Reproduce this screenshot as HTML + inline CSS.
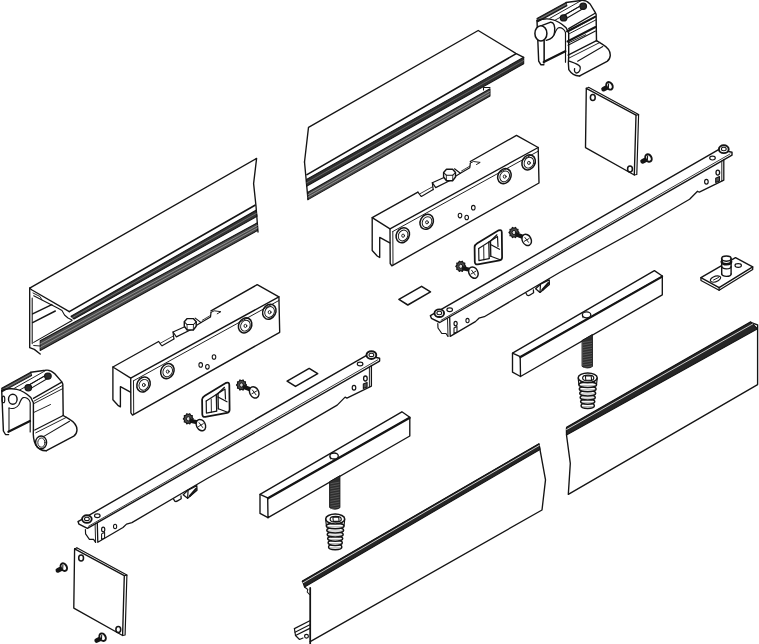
<!DOCTYPE html>
<html><head><meta charset="utf-8"><style>
html,body{margin:0;padding:0;background:#fff;width:759px;height:644px;overflow:hidden;font-family:"Liberation Sans",sans-serif;}
svg{display:block}
</style></head><body>
<svg width="759" height="644" viewBox="0 0 759 644" stroke-linejoin="round" stroke-linecap="round">
<rect width="759" height="644" fill="#fff"/>
<path d="M29.7,288.2 L256.6,158.4 L253.6,183.6 L256.0,206.0 L258.0,232.0" fill="none" stroke="#141414" stroke-width="1.36" />
<path d="M69.3,311.6 L255.0,205.2" fill="none" stroke="#141414" stroke-width="1.65" />
<path d="M71.0,316.3 L256.0,210.3 L257.0,216.3 L74.0,319.0 Z" fill="#363636" stroke="#141414" stroke-width="1.06" />
<path d="M72.5,317.6 L256.5,213.3" fill="none" stroke="#999" stroke-width="0.59" />
<path d="M40.2,340.8 L257.5,222.8 L257.5,230.5 L40.2,350.5 Z" fill="#4a4a4a" stroke="#141414" stroke-width="1.06" />
<path d="M40.2,344.0 L257.5,225.4" fill="none" stroke="#ccc" stroke-width="0.53" />
<path d="M40.2,347.3 L257.5,227.9" fill="none" stroke="#ccc" stroke-width="0.53" />
<path d="M29.7,288.2 L29.7,347.7 L34.3,349.4 L40.2,354.0" fill="none" stroke="#141414" stroke-width="1.36" />
<path d="M29.7,288.2 L32.0,290.0 L69.3,311.6" fill="none" stroke="#141414" stroke-width="1.36" />
<path d="M32.2,298.0 L32.2,343.6" fill="none" stroke="#141414" stroke-width="1.06" />
<path d="M33.7,295.8 L57.6,308.0 L62.0,310.5 L64.5,315.0 L68.0,318.0 L72.0,320.0" fill="none" stroke="#141414" stroke-width="1.06" />
<path d="M33.0,293.0 L40.0,296.5 L42.0,300.0" fill="none" stroke="#141414" stroke-width="0.94" />
<path d="M32.6,313.9 L51.8,304.6" fill="none" stroke="#141414" stroke-width="1.42" />
<path d="M32.6,322.6 L55.3,311.0" fill="none" stroke="#141414" stroke-width="1.42" />
<path d="M33.7,342.4 L72.0,320.5" fill="none" stroke="#141414" stroke-width="1.06" />
<path d="M33.7,345.5 L40.2,346.0" fill="none" stroke="#141414" stroke-width="0.94" />
<path d="M304.5,162.0 L308.5,127.3 L478.2,30.5 L515.8,53.3 L523.7,57.3" fill="none" stroke="#141414" stroke-width="1.36" />
<path d="M304.5,162.0 L308.0,199.6" fill="none" stroke="#141414" stroke-width="1.36" />
<path d="M307.0,174.6 L515.8,53.9" fill="none" stroke="#141414" stroke-width="1.65" />
<path d="M306.5,179.5 L523.7,57.3 L523.7,63.8 L306.5,186.3 Z" fill="#303030" stroke="#141414" stroke-width="1.06" />
<path d="M306.5,182.9 L523.7,60.5" fill="none" stroke="#888" stroke-width="0.59" />
<path d="M308.0,192.2 L490.0,88.7 L490.0,96.0 L308.0,199.6 Z" fill="#4a4a4a" stroke="#141414" stroke-width="1.06" />
<path d="M308.0,194.7 L490.0,91.1" fill="none" stroke="#ccc" stroke-width="0.53" />
<path d="M308.0,197.1 L490.0,93.6" fill="none" stroke="#ccc" stroke-width="0.53" />
<path d="M483.5,90.0 L483.5,87.5 L490.0,87.5" fill="none" stroke="#141414" stroke-width="1.06" />
<path d="M566.5,428.0 L750.7,322.5 L757.6,324.8 L757.6,384.6 L568.3,494.4 L570.3,463.4 L566.5,435.0 L566.5,428.0" fill="none" stroke="#141414" stroke-width="1.36" />
<path d="M566.5,427.3 L750.7,321.8 L757.6,328.8 L566.5,435.0 Z" fill="#262626" stroke="#141414" stroke-width="1.06" />
<path d="M566.5,429.6 L752.8,323.9" fill="none" stroke="#eee" stroke-width="0.83" />
<path d="M310.2,641.6 L542.0,510.0 L545.5,479.8 L539.0,444.2 L302.4,581.5" fill="none" stroke="#141414" stroke-width="1.36" />
<path d="M302.4,581.0 L539.0,443.7 L540.0,449.5 L304.5,587.0 Z" fill="#262626" stroke="#141414" stroke-width="1.06" />
<path d="M303.0,582.8 L539.3,445.4" fill="none" stroke="#eee" stroke-width="0.83" />
<path d="M310.2,588.0 L310.2,644.0" fill="none" stroke="#141414" stroke-width="1.77" />
<path d="M304.5,587.0 L307.8,589.5 L307.2,592.0 L309.5,594.5" fill="none" stroke="#141414" stroke-width="1.06" />
<path d="M294.4,628.6 L309.8,620.8" fill="none" stroke="#141414" stroke-width="1.18" />
<path d="M295.0,632.3 L309.8,624.8" fill="none" stroke="#141414" stroke-width="1.06" />
<path d="M295.5,635.5 L309.8,628.4" fill="none" stroke="#141414" stroke-width="1.18" />
<path d="M294.4,628.6 L295.5,635.5 L299.5,639.5 L303.0,638.0" fill="none" stroke="#141414" stroke-width="1.18" />
<ellipse cx="306.5" cy="636.2" rx="1.9" ry="1.9" fill="none" stroke="#141414" stroke-width="1.18"/>
<g>
<path d="M417.9,192.2 L372.2,217.7 L390.0,228.8 L538.2,147.5 L516.5,135.4 L470.3,161.5" fill="none" stroke="#141414" stroke-width="1.36" />
<path d="M390.0,228.8 L390.2,263.5 L391.8,265.8 L539.0,183.0 L538.2,147.5" fill="none" stroke="#141414" stroke-width="1.36" />
<path d="M392.8,231.5 L538.2,151.2" fill="none" stroke="#141414" stroke-width="0.94" />
<path d="M392.8,231.5 L393.0,264.8" fill="none" stroke="#141414" stroke-width="0.94" />
<path d="M372.2,217.7 L372.2,250.5 L377.2,256.0 L379.7,257.5 L379.7,237.4 L389.8,242.9" fill="none" stroke="#141414" stroke-width="1.36" />
<path d="M417.9,192.2 L420.4,195.5 L421.4,196.5 L433.2,189.6" fill="none" stroke="#141414" stroke-width="1.18" />
<path d="M419.5,194.0 L432.5,186.8" fill="none" stroke="#141414" stroke-width="0.83" />
<path d="M460.4,173.3 L469.8,167.8 L470.3,163.1" fill="none" stroke="#141414" stroke-width="1.18" />
<path d="M461.5,171.0 L470.0,166.0" fill="none" stroke="#141414" stroke-width="0.83" />
<path d="M470.3,163.1 L473.5,161.5 L480.2,162.4 L476.5,164.5" fill="none" stroke="#141414" stroke-width="0.94" />
<path d="M433.2,189.6 L432.3,182.7 L444.6,177.2" fill="none" stroke="#141414" stroke-width="1.18" />
<path d="M432.3,182.7 L435.7,187.6 L451.5,179.7" fill="none" stroke="#141414" stroke-width="1.18" />
<path d="M454.5,168.8 L460.4,173.3 L456.0,176.0" fill="none" stroke="#141414" stroke-width="1.18" />
<path d="M443.6,172.5 L446.5,169.3 L452.6,169.3 L455.5,172.5 L455.5,177.0 L452.6,180.7 L446.5,180.7 L443.6,177.0 Z" fill="#fff" stroke="#141414" stroke-width="1.42" />
<path d="M443.6,172.5 L446.3,175.2 L452.8,175.2 L455.5,172.5" fill="none" stroke="#141414" stroke-width="1.06" />
<path d="M446.3,175.2 L446.5,180.7" fill="none" stroke="#141414" stroke-width="0.83" />
<path d="M452.8,175.2 L452.6,180.7" fill="none" stroke="#141414" stroke-width="0.83" />
<ellipse cx="402.8" cy="235.2" rx="6.4" ry="7.8" fill="none" stroke="#141414" stroke-width="1.53" transform="rotate(28 402.8 235.2)"/>
<ellipse cx="403.1" cy="235.5" rx="4.6" ry="5.6" fill="none" stroke="#141414" stroke-width="0.94" transform="rotate(28 403.1 235.5)"/>
<ellipse cx="403.1" cy="235.7" rx="1.4" ry="1.6" fill="none" stroke="#141414" stroke-width="0.94"/>
<ellipse cx="426.7" cy="221.8" rx="6.4" ry="7.8" fill="none" stroke="#141414" stroke-width="1.53" transform="rotate(28 426.7 221.8)"/>
<ellipse cx="427.0" cy="222.10000000000002" rx="4.6" ry="5.6" fill="none" stroke="#141414" stroke-width="0.94" transform="rotate(28 427.0 222.10000000000002)"/>
<ellipse cx="427.0" cy="222.3" rx="1.4" ry="1.6" fill="none" stroke="#141414" stroke-width="0.94"/>
<ellipse cx="504.4" cy="176.1" rx="6.4" ry="7.8" fill="none" stroke="#141414" stroke-width="1.53" transform="rotate(28 504.4 176.1)"/>
<ellipse cx="504.7" cy="176.4" rx="4.6" ry="5.6" fill="none" stroke="#141414" stroke-width="0.94" transform="rotate(28 504.7 176.4)"/>
<ellipse cx="504.7" cy="176.6" rx="1.4" ry="1.6" fill="none" stroke="#141414" stroke-width="0.94"/>
<ellipse cx="528.6" cy="162.4" rx="6.4" ry="7.8" fill="none" stroke="#141414" stroke-width="1.53" transform="rotate(28 528.6 162.4)"/>
<ellipse cx="528.9" cy="162.70000000000002" rx="4.6" ry="5.6" fill="none" stroke="#141414" stroke-width="0.94" transform="rotate(28 528.9 162.70000000000002)"/>
<ellipse cx="528.9" cy="162.9" rx="1.4" ry="1.6" fill="none" stroke="#141414" stroke-width="0.94"/>
<ellipse cx="460" cy="215.6" rx="1.8" ry="2.3" fill="none" stroke="#141414" stroke-width="1.06"/>
<ellipse cx="466.7" cy="217.5" rx="1.8" ry="2.3" fill="none" stroke="#141414" stroke-width="1.06"/>
<ellipse cx="473.3" cy="207.7" rx="1.8" ry="2.3" fill="none" stroke="#141414" stroke-width="1.06"/>
</g>
<g transform="translate(-259.3,149.3)">
<path d="M417.9,192.2 L372.2,217.7 L390.0,228.8 L538.2,147.5 L516.5,135.4 L470.3,161.5" fill="none" stroke="#141414" stroke-width="1.36" />
<path d="M390.0,228.8 L390.2,263.5 L391.8,265.8 L539.0,183.0 L538.2,147.5" fill="none" stroke="#141414" stroke-width="1.36" />
<path d="M392.8,231.5 L538.2,151.2" fill="none" stroke="#141414" stroke-width="0.94" />
<path d="M392.8,231.5 L393.0,264.8" fill="none" stroke="#141414" stroke-width="0.94" />
<path d="M372.2,217.7 L372.2,250.5 L377.2,256.0 L379.7,257.5 L379.7,237.4 L389.8,242.9" fill="none" stroke="#141414" stroke-width="1.36" />
<path d="M417.9,192.2 L420.4,195.5 L421.4,196.5 L433.2,189.6" fill="none" stroke="#141414" stroke-width="1.18" />
<path d="M419.5,194.0 L432.5,186.8" fill="none" stroke="#141414" stroke-width="0.83" />
<path d="M460.4,173.3 L469.8,167.8 L470.3,163.1" fill="none" stroke="#141414" stroke-width="1.18" />
<path d="M461.5,171.0 L470.0,166.0" fill="none" stroke="#141414" stroke-width="0.83" />
<path d="M470.3,163.1 L473.5,161.5 L480.2,162.4 L476.5,164.5" fill="none" stroke="#141414" stroke-width="0.94" />
<path d="M433.2,189.6 L432.3,182.7 L444.6,177.2" fill="none" stroke="#141414" stroke-width="1.18" />
<path d="M432.3,182.7 L435.7,187.6 L451.5,179.7" fill="none" stroke="#141414" stroke-width="1.18" />
<path d="M454.5,168.8 L460.4,173.3 L456.0,176.0" fill="none" stroke="#141414" stroke-width="1.18" />
<path d="M443.6,172.5 L446.5,169.3 L452.6,169.3 L455.5,172.5 L455.5,177.0 L452.6,180.7 L446.5,180.7 L443.6,177.0 Z" fill="#fff" stroke="#141414" stroke-width="1.42" />
<path d="M443.6,172.5 L446.3,175.2 L452.8,175.2 L455.5,172.5" fill="none" stroke="#141414" stroke-width="1.06" />
<path d="M446.3,175.2 L446.5,180.7" fill="none" stroke="#141414" stroke-width="0.83" />
<path d="M452.8,175.2 L452.6,180.7" fill="none" stroke="#141414" stroke-width="0.83" />
<ellipse cx="402.8" cy="235.2" rx="6.4" ry="7.8" fill="none" stroke="#141414" stroke-width="1.53" transform="rotate(28 402.8 235.2)"/>
<ellipse cx="403.1" cy="235.5" rx="4.6" ry="5.6" fill="none" stroke="#141414" stroke-width="0.94" transform="rotate(28 403.1 235.5)"/>
<ellipse cx="403.1" cy="235.7" rx="1.4" ry="1.6" fill="none" stroke="#141414" stroke-width="0.94"/>
<ellipse cx="426.7" cy="221.8" rx="6.4" ry="7.8" fill="none" stroke="#141414" stroke-width="1.53" transform="rotate(28 426.7 221.8)"/>
<ellipse cx="427.0" cy="222.10000000000002" rx="4.6" ry="5.6" fill="none" stroke="#141414" stroke-width="0.94" transform="rotate(28 427.0 222.10000000000002)"/>
<ellipse cx="427.0" cy="222.3" rx="1.4" ry="1.6" fill="none" stroke="#141414" stroke-width="0.94"/>
<ellipse cx="504.4" cy="176.1" rx="6.4" ry="7.8" fill="none" stroke="#141414" stroke-width="1.53" transform="rotate(28 504.4 176.1)"/>
<ellipse cx="504.7" cy="176.4" rx="4.6" ry="5.6" fill="none" stroke="#141414" stroke-width="0.94" transform="rotate(28 504.7 176.4)"/>
<ellipse cx="504.7" cy="176.6" rx="1.4" ry="1.6" fill="none" stroke="#141414" stroke-width="0.94"/>
<ellipse cx="528.6" cy="162.4" rx="6.4" ry="7.8" fill="none" stroke="#141414" stroke-width="1.53" transform="rotate(28 528.6 162.4)"/>
<ellipse cx="528.9" cy="162.70000000000002" rx="4.6" ry="5.6" fill="none" stroke="#141414" stroke-width="0.94" transform="rotate(28 528.9 162.70000000000002)"/>
<ellipse cx="528.9" cy="162.9" rx="1.4" ry="1.6" fill="none" stroke="#141414" stroke-width="0.94"/>
<ellipse cx="460" cy="215.6" rx="1.8" ry="2.3" fill="none" stroke="#141414" stroke-width="1.06"/>
<ellipse cx="466.7" cy="217.5" rx="1.8" ry="2.3" fill="none" stroke="#141414" stroke-width="1.06"/>
<ellipse cx="473.3" cy="207.7" rx="1.8" ry="2.3" fill="none" stroke="#141414" stroke-width="1.06"/>
</g>
<g>
<path d="M474.6,247 L474.8,262 Q475,264.8 477.8,264.3 L499.6,260.3 Q502.2,259.8 502.1,257 L501.8,232.3 Q501.6,229.2 498.7,230.3 L477.3,243.2 Q474.6,244.8 474.6,247 Z" fill="#fff" stroke="#141414" stroke-width="1.77" />
<path d="M478.7,248.5 L478.9,260.6 L489.2,258.6" fill="none" stroke="#141414" stroke-width="1.18" />
<path d="M478.7,248.5 L497.5,236.5 L498.0,246.5" fill="none" stroke="#141414" stroke-width="1.18" />
<path d="M483.7,246.5 L483.9,259.8" fill="none" stroke="#141414" stroke-width="0.94" />
<path d="M488.8,242.2 L489.2,258.3" fill="none" stroke="#141414" stroke-width="1.30" />
<path d="M490.5,241.0 L490.8,256.3" fill="none" stroke="#141414" stroke-width="1.30" />
<path d="M488.8,242.2 L490.5,241.0 L497.0,234.8" fill="none" stroke="#141414" stroke-width="1.18" />
<path d="M490.5,244.5 L499.5,249.3" fill="none" stroke="#141414" stroke-width="1.30" />
<path d="M490.8,256.3 L499.5,259.5" fill="none" stroke="#141414" stroke-width="1.18" />
<path d="M519.0,232.5 L517.8,233.8 L518.0,235.7 L516.4,236.0 L515.5,237.6 L514.0,236.8 L512.5,237.6 L511.6,236.0 L510.0,235.7 L510.2,233.8 L509.0,232.5 L510.2,231.2 L510.0,229.3 L511.6,229.0 L512.5,227.4 L514.0,228.2 L515.5,227.4 L516.4,229.0 L518.0,229.3 L517.8,231.2 Z" fill="#4a4a4a" stroke="#141414" stroke-width="1.18" />
<ellipse cx="514.0" cy="232.5" rx="1.9" ry="2.1" fill="#ddd" stroke="#141414" stroke-width="0.94"/>
<path d="M517.2,234.7 L523.9,237.3" fill="none" stroke="#141414" stroke-width="4.25" />
<ellipse cx="526.7" cy="239.9" rx="4.4" ry="5.9" fill="#fff" stroke="#141414" stroke-width="1.42" transform="rotate(-28 526.7 239.9)"/>
<path d="M524.9,237.5 L528.5,242.3" fill="none" stroke="#141414" stroke-width="0.94" />
<path d="M524.3,241.3 L529.1,238.5" fill="none" stroke="#141414" stroke-width="0.94" />
<path d="M465.8,266.3 L464.6,267.6 L464.8,269.5 L463.2,269.8 L462.3,271.4 L460.8,270.6 L459.3,271.4 L458.4,269.8 L456.8,269.5 L457.0,267.6 L455.8,266.3 L457.0,265.0 L456.8,263.1 L458.4,262.8 L459.3,261.2 L460.8,262.0 L462.3,261.2 L463.2,262.8 L464.8,263.1 L464.6,265.0 Z" fill="#4a4a4a" stroke="#141414" stroke-width="1.18" />
<ellipse cx="460.8" cy="266.3" rx="1.9" ry="2.1" fill="#ddd" stroke="#141414" stroke-width="0.94"/>
<path d="M464.0,268.5 L470.6,270.0" fill="none" stroke="#141414" stroke-width="4.25" />
<ellipse cx="473.4" cy="272.6" rx="4.4" ry="5.9" fill="#fff" stroke="#141414" stroke-width="1.42" transform="rotate(-28 473.4 272.6)"/>
<path d="M471.6,270.2 L475.2,275.0" fill="none" stroke="#141414" stroke-width="0.94" />
<path d="M471.0,274.0 L475.8,271.2" fill="none" stroke="#141414" stroke-width="0.94" />
</g>
<g transform="translate(-272.5,152.5)">
<path d="M474.6,247 L474.8,262 Q475,264.8 477.8,264.3 L499.6,260.3 Q502.2,259.8 502.1,257 L501.8,232.3 Q501.6,229.2 498.7,230.3 L477.3,243.2 Q474.6,244.8 474.6,247 Z" fill="#fff" stroke="#141414" stroke-width="1.77" />
<path d="M478.7,248.5 L478.9,260.6 L489.2,258.6" fill="none" stroke="#141414" stroke-width="1.18" />
<path d="M478.7,248.5 L497.5,236.5 L498.0,246.5" fill="none" stroke="#141414" stroke-width="1.18" />
<path d="M483.7,246.5 L483.9,259.8" fill="none" stroke="#141414" stroke-width="0.94" />
<path d="M488.8,242.2 L489.2,258.3" fill="none" stroke="#141414" stroke-width="1.30" />
<path d="M490.5,241.0 L490.8,256.3" fill="none" stroke="#141414" stroke-width="1.30" />
<path d="M488.8,242.2 L490.5,241.0 L497.0,234.8" fill="none" stroke="#141414" stroke-width="1.18" />
<path d="M490.5,244.5 L499.5,249.3" fill="none" stroke="#141414" stroke-width="1.30" />
<path d="M490.8,256.3 L499.5,259.5" fill="none" stroke="#141414" stroke-width="1.18" />
<path d="M519.0,232.5 L517.8,233.8 L518.0,235.7 L516.4,236.0 L515.5,237.6 L514.0,236.8 L512.5,237.6 L511.6,236.0 L510.0,235.7 L510.2,233.8 L509.0,232.5 L510.2,231.2 L510.0,229.3 L511.6,229.0 L512.5,227.4 L514.0,228.2 L515.5,227.4 L516.4,229.0 L518.0,229.3 L517.8,231.2 Z" fill="#4a4a4a" stroke="#141414" stroke-width="1.18" />
<ellipse cx="514.0" cy="232.5" rx="1.9" ry="2.1" fill="#ddd" stroke="#141414" stroke-width="0.94"/>
<path d="M517.2,234.7 L523.9,237.3" fill="none" stroke="#141414" stroke-width="4.25" />
<ellipse cx="526.7" cy="239.9" rx="4.4" ry="5.9" fill="#fff" stroke="#141414" stroke-width="1.42" transform="rotate(-28 526.7 239.9)"/>
<path d="M524.9,237.5 L528.5,242.3" fill="none" stroke="#141414" stroke-width="0.94" />
<path d="M524.3,241.3 L529.1,238.5" fill="none" stroke="#141414" stroke-width="0.94" />
<path d="M465.8,266.3 L464.6,267.6 L464.8,269.5 L463.2,269.8 L462.3,271.4 L460.8,270.6 L459.3,271.4 L458.4,269.8 L456.8,269.5 L457.0,267.6 L455.8,266.3 L457.0,265.0 L456.8,263.1 L458.4,262.8 L459.3,261.2 L460.8,262.0 L462.3,261.2 L463.2,262.8 L464.8,263.1 L464.6,265.0 Z" fill="#4a4a4a" stroke="#141414" stroke-width="1.18" />
<ellipse cx="460.8" cy="266.3" rx="1.9" ry="2.1" fill="#ddd" stroke="#141414" stroke-width="0.94"/>
<path d="M464.0,268.5 L470.6,270.0" fill="none" stroke="#141414" stroke-width="4.25" />
<ellipse cx="473.4" cy="272.6" rx="4.4" ry="5.9" fill="#fff" stroke="#141414" stroke-width="1.42" transform="rotate(-28 473.4 272.6)"/>
<path d="M471.6,270.2 L475.2,275.0" fill="none" stroke="#141414" stroke-width="0.94" />
<path d="M471.0,274.0 L475.8,271.2" fill="none" stroke="#141414" stroke-width="0.94" />
</g>
<path d="M398.9,299.4 L421.6,286.3 L430.5,291.9 L407.8,305.0 Z" fill="none" stroke="#141414" stroke-width="1.53" />
<path d="M287.1,381.1 L309.2,368.4 L317.7,373.7 L295.5,386.4 Z" fill="none" stroke="#141414" stroke-width="1.53" />
<g>
<path d="M430.4,315.7 L719.0,149.4 L732.0,152.3 L732.0,155.2 L439.8,322.5 L431.4,318.3 L430.4,315.7" fill="none" stroke="#141414" stroke-width="1.42" />
<path d="M441.0,320.3 L730.0,154.0" fill="none" stroke="#141414" stroke-width="0.83" />
<path d="M449.7,317.5 L450.2,336.4 L475.4,321.6 L478.9,318.2 L484.3,316.7 L560.0,272.3 L640.0,228.2 L689.6,199.2 L697.5,191.2 L699.3,192.2 L723.8,180.2 L723.8,159.6" fill="none" stroke="#141414" stroke-width="1.30" />
<path d="M721.8,161.0 L721.8,181.0" fill="none" stroke="#141414" stroke-width="0.94" />
<path d="M447.5,318.5 L448.0,336.0" fill="none" stroke="#141414" stroke-width="0.94" />
<path d="M437.8,323.6 L438.0,328.0 L441.8,333.5 L446.0,333.5 L448.0,336.5" fill="none" stroke="#141414" stroke-width="1.18" />
<ellipse cx="439.3" cy="313.2" rx="4.8" ry="3.8" fill="#fff" stroke="#141414" stroke-width="1.89"/>
<ellipse cx="439.3" cy="313.0" rx="2.4" ry="1.7" fill="none" stroke="#141414" stroke-width="1.06"/>
<ellipse cx="449.7" cy="309.8" rx="2.8" ry="1.9" fill="none" stroke="#141414" stroke-width="1.18"/>
<ellipse cx="455.6" cy="323.6" rx="1.6" ry="2.3" fill="none" stroke="#141414" stroke-width="1.18"/>
<ellipse cx="467.5" cy="320.6" rx="1.6" ry="2.2" fill="none" stroke="#141414" stroke-width="1.06"/>
<path d="M454.0,328.0 L457.0,326.5 L457.0,332.0 L454.0,333.5 Z" fill="none" stroke="#141414" stroke-width="1.06" />
<ellipse cx="723.8" cy="149.2" rx="4.9" ry="3.9" fill="#fff" stroke="#141414" stroke-width="1.89"/>
<ellipse cx="723.8" cy="149.0" rx="2.4" ry="1.7" fill="none" stroke="#141414" stroke-width="1.06"/>
<ellipse cx="712.5" cy="158.1" rx="2.8" ry="1.9" fill="none" stroke="#141414" stroke-width="1.18"/>
<ellipse cx="717.8" cy="172.6" rx="1.8" ry="2.5" fill="none" stroke="#141414" stroke-width="1.30"/>
<ellipse cx="706.4" cy="181.8" rx="1.8" ry="2.4" fill="none" stroke="#141414" stroke-width="1.18"/>
<path d="M715.7,178.2 L719.5,176.5 L719.5,181.0 L715.7,182.6 Z" fill="#555" stroke="#141414" stroke-width="1.06" />
<path d="M526.0,293.2 L527.2,295.3 Q528.5,296 530,295 L533.6,292.8 L533.4,290.0" fill="none" stroke="#141414" stroke-width="1.30" />
<path d="M535.6,288.8 L540.0,292.4 L549.4,284.4 L549.2,279.8 L540.5,284.2 Z" fill="#fff" stroke="#141414" stroke-width="1.30" />
<path d="M540.5,284.2 L540.0,292.4" fill="none" stroke="#141414" stroke-width="1.18" />
<path d="M542.3,290.0 L548.4,283.0" fill="none" stroke="#141414" stroke-width="2.12" />
</g>
<g transform="translate(-352.4,205.9)">
<path d="M430.4,315.7 L719.0,149.4 L732.0,152.3 L732.0,155.2 L439.8,322.5 L431.4,318.3 L430.4,315.7" fill="none" stroke="#141414" stroke-width="1.42" />
<path d="M441.0,320.3 L730.0,154.0" fill="none" stroke="#141414" stroke-width="0.83" />
<path d="M449.7,317.5 L450.2,336.4 L475.4,321.6 L478.9,318.2 L484.3,316.7 L560.0,272.3 L640.0,228.2 L689.6,199.2 L697.5,191.2 L699.3,192.2 L723.8,180.2 L723.8,159.6" fill="none" stroke="#141414" stroke-width="1.30" />
<path d="M721.8,161.0 L721.8,181.0" fill="none" stroke="#141414" stroke-width="0.94" />
<path d="M447.5,318.5 L448.0,336.0" fill="none" stroke="#141414" stroke-width="0.94" />
<path d="M437.8,323.6 L438.0,328.0 L441.8,333.5 L446.0,333.5 L448.0,336.5" fill="none" stroke="#141414" stroke-width="1.18" />
<ellipse cx="439.3" cy="313.2" rx="4.8" ry="3.8" fill="#fff" stroke="#141414" stroke-width="1.89"/>
<ellipse cx="439.3" cy="313.0" rx="2.4" ry="1.7" fill="none" stroke="#141414" stroke-width="1.06"/>
<ellipse cx="449.7" cy="309.8" rx="2.8" ry="1.9" fill="none" stroke="#141414" stroke-width="1.18"/>
<ellipse cx="455.6" cy="323.6" rx="1.6" ry="2.3" fill="none" stroke="#141414" stroke-width="1.18"/>
<ellipse cx="467.5" cy="320.6" rx="1.6" ry="2.2" fill="none" stroke="#141414" stroke-width="1.06"/>
<path d="M454.0,328.0 L457.0,326.5 L457.0,332.0 L454.0,333.5 Z" fill="none" stroke="#141414" stroke-width="1.06" />
<ellipse cx="723.8" cy="149.2" rx="4.9" ry="3.9" fill="#fff" stroke="#141414" stroke-width="1.89"/>
<ellipse cx="723.8" cy="149.0" rx="2.4" ry="1.7" fill="none" stroke="#141414" stroke-width="1.06"/>
<ellipse cx="712.5" cy="158.1" rx="2.8" ry="1.9" fill="none" stroke="#141414" stroke-width="1.18"/>
<ellipse cx="717.8" cy="172.6" rx="1.8" ry="2.5" fill="none" stroke="#141414" stroke-width="1.30"/>
<ellipse cx="706.4" cy="181.8" rx="1.8" ry="2.4" fill="none" stroke="#141414" stroke-width="1.18"/>
<path d="M715.7,178.2 L719.5,176.5 L719.5,181.0 L715.7,182.6 Z" fill="#555" stroke="#141414" stroke-width="1.06" />
<path d="M526.0,293.2 L527.2,295.3 Q528.5,296 530,295 L533.6,292.8 L533.4,290.0" fill="none" stroke="#141414" stroke-width="1.30" />
<path d="M535.6,288.8 L540.0,292.4 L549.4,284.4 L549.2,279.8 L540.5,284.2 Z" fill="#fff" stroke="#141414" stroke-width="1.30" />
<path d="M540.5,284.2 L540.0,292.4" fill="none" stroke="#141414" stroke-width="1.18" />
<path d="M542.3,290.0 L548.4,283.0" fill="none" stroke="#141414" stroke-width="2.12" />
</g>
<g>
<path d="M512.5,353.2 L654.4,270.6 L662.3,276.0 L520.2,356.7 Z" fill="none" stroke="#141414" stroke-width="1.36" />
<path d="M520.2,356.7 L520.5,376.5 L662.3,294.8 L662.3,276.0" fill="none" stroke="#141414" stroke-width="1.36" />
<path d="M512.5,353.2 L512.5,372.2 L520.5,376.5" fill="none" stroke="#141414" stroke-width="1.36" />
<path d="M520.2,357.5 L662.3,276.8" fill="none" stroke="#141414" stroke-width="1.77" />
<ellipse cx="586.6" cy="314.8" rx="4.2" ry="3.0" fill="#fff" stroke="#141414" stroke-width="1.30"/>
<path d="M582.4,315.5 L583.0,317.8" fill="none" stroke="#141414" stroke-width="0.94" />
<path d="M582.4,340.3 L592.4,334.5 L592.4,366.5 Q587.4,369.5 582.4,366.5 Z" fill="#2e2e2e" stroke="#141414" stroke-width="0.94" />
<path d="M583.2,342.5 L591.6,341.0" fill="none" stroke="#666" stroke-width="0.71" />
<path d="M583.2,345.0 L591.6,343.5" fill="none" stroke="#666" stroke-width="0.71" />
<path d="M583.2,347.5 L591.6,346.0" fill="none" stroke="#666" stroke-width="0.71" />
<path d="M583.2,350.0 L591.6,348.5" fill="none" stroke="#666" stroke-width="0.71" />
<path d="M583.2,352.5 L591.6,351.0" fill="none" stroke="#666" stroke-width="0.71" />
<path d="M583.2,355.0 L591.6,353.5" fill="none" stroke="#666" stroke-width="0.71" />
<path d="M583.2,357.5 L591.6,356.0" fill="none" stroke="#666" stroke-width="0.71" />
<path d="M583.2,360.0 L591.6,358.5" fill="none" stroke="#666" stroke-width="0.71" />
<path d="M583.2,362.5 L591.6,361.0" fill="none" stroke="#666" stroke-width="0.71" />
<path d="M583.2,365.0 L591.6,363.5" fill="none" stroke="#666" stroke-width="0.71" />
<path d="M583.2,367.5 L591.6,366.0" fill="none" stroke="#666" stroke-width="0.71" />
<ellipse cx="587.7" cy="405.8" rx="6.65" ry="2.7" fill="#fff" stroke="#141414" stroke-width="1.47"/>
<path d="M582.6,406.6 L592.9,406.6" fill="none" stroke="#777" stroke-width="0.59" />
<ellipse cx="587.7" cy="401.6" rx="7.1000000000000005" ry="2.7" fill="#fff" stroke="#141414" stroke-width="1.47"/>
<path d="M582.1,402.4 L593.3,402.4" fill="none" stroke="#777" stroke-width="0.59" />
<ellipse cx="587.7" cy="397.40000000000003" rx="7.550000000000001" ry="2.7" fill="#fff" stroke="#141414" stroke-width="1.47"/>
<path d="M581.7,398.2 L593.8,398.2" fill="none" stroke="#777" stroke-width="0.59" />
<ellipse cx="587.7" cy="393.2" rx="8.0" ry="2.7" fill="#fff" stroke="#141414" stroke-width="1.47"/>
<path d="M581.2,394.0 L594.2,394.0" fill="none" stroke="#777" stroke-width="0.59" />
<ellipse cx="587.7" cy="389.0" rx="8.450000000000001" ry="2.7" fill="#fff" stroke="#141414" stroke-width="1.47"/>
<path d="M580.8,389.8 L594.7,389.8" fill="none" stroke="#777" stroke-width="0.59" />
<ellipse cx="587.7" cy="384.8" rx="8.9" ry="2.7" fill="#fff" stroke="#141414" stroke-width="1.47"/>
<path d="M580.3,385.6 L595.1,385.6" fill="none" stroke="#777" stroke-width="0.59" />
<ellipse cx="587.7" cy="377.8" rx="9.5" ry="4.9" fill="#fff" stroke="#141414" stroke-width="1.53"/>
<ellipse cx="588.2" cy="378.1" rx="5.6" ry="2.9" fill="none" stroke="#141414" stroke-width="1.18"/>
<path d="M585.4,376.0 L591.2,376.0 L591.6,380.2 L585.8,380.2 Z" fill="none" stroke="#141414" stroke-width="1.06" />
<path d="M578.2,378.5 L578.9,384.5" fill="none" stroke="#141414" stroke-width="1.18" />
<path d="M597.2,378.5 L596.5,384.5" fill="none" stroke="#141414" stroke-width="1.18" />
</g>
<g transform="translate(-252.5,141.2)">
<path d="M512.5,353.2 L654.4,270.6 L662.3,276.0 L520.2,356.7 Z" fill="none" stroke="#141414" stroke-width="1.36" />
<path d="M520.2,356.7 L520.5,376.5 L662.3,294.8 L662.3,276.0" fill="none" stroke="#141414" stroke-width="1.36" />
<path d="M512.5,353.2 L512.5,372.2 L520.5,376.5" fill="none" stroke="#141414" stroke-width="1.36" />
<path d="M520.2,357.5 L662.3,276.8" fill="none" stroke="#141414" stroke-width="1.77" />
<ellipse cx="586.6" cy="314.8" rx="4.2" ry="3.0" fill="#fff" stroke="#141414" stroke-width="1.30"/>
<path d="M582.4,315.5 L583.0,317.8" fill="none" stroke="#141414" stroke-width="0.94" />
<path d="M582.4,340.3 L592.4,334.5 L592.4,366.5 Q587.4,369.5 582.4,366.5 Z" fill="#2e2e2e" stroke="#141414" stroke-width="0.94" />
<path d="M583.2,342.5 L591.6,341.0" fill="none" stroke="#666" stroke-width="0.71" />
<path d="M583.2,345.0 L591.6,343.5" fill="none" stroke="#666" stroke-width="0.71" />
<path d="M583.2,347.5 L591.6,346.0" fill="none" stroke="#666" stroke-width="0.71" />
<path d="M583.2,350.0 L591.6,348.5" fill="none" stroke="#666" stroke-width="0.71" />
<path d="M583.2,352.5 L591.6,351.0" fill="none" stroke="#666" stroke-width="0.71" />
<path d="M583.2,355.0 L591.6,353.5" fill="none" stroke="#666" stroke-width="0.71" />
<path d="M583.2,357.5 L591.6,356.0" fill="none" stroke="#666" stroke-width="0.71" />
<path d="M583.2,360.0 L591.6,358.5" fill="none" stroke="#666" stroke-width="0.71" />
<path d="M583.2,362.5 L591.6,361.0" fill="none" stroke="#666" stroke-width="0.71" />
<path d="M583.2,365.0 L591.6,363.5" fill="none" stroke="#666" stroke-width="0.71" />
<path d="M583.2,367.5 L591.6,366.0" fill="none" stroke="#666" stroke-width="0.71" />
<ellipse cx="587.7" cy="405.8" rx="6.65" ry="2.7" fill="#fff" stroke="#141414" stroke-width="1.47"/>
<path d="M582.6,406.6 L592.9,406.6" fill="none" stroke="#777" stroke-width="0.59" />
<ellipse cx="587.7" cy="401.6" rx="7.1000000000000005" ry="2.7" fill="#fff" stroke="#141414" stroke-width="1.47"/>
<path d="M582.1,402.4 L593.3,402.4" fill="none" stroke="#777" stroke-width="0.59" />
<ellipse cx="587.7" cy="397.40000000000003" rx="7.550000000000001" ry="2.7" fill="#fff" stroke="#141414" stroke-width="1.47"/>
<path d="M581.7,398.2 L593.8,398.2" fill="none" stroke="#777" stroke-width="0.59" />
<ellipse cx="587.7" cy="393.2" rx="8.0" ry="2.7" fill="#fff" stroke="#141414" stroke-width="1.47"/>
<path d="M581.2,394.0 L594.2,394.0" fill="none" stroke="#777" stroke-width="0.59" />
<ellipse cx="587.7" cy="389.0" rx="8.450000000000001" ry="2.7" fill="#fff" stroke="#141414" stroke-width="1.47"/>
<path d="M580.8,389.8 L594.7,389.8" fill="none" stroke="#777" stroke-width="0.59" />
<ellipse cx="587.7" cy="384.8" rx="8.9" ry="2.7" fill="#fff" stroke="#141414" stroke-width="1.47"/>
<path d="M580.3,385.6 L595.1,385.6" fill="none" stroke="#777" stroke-width="0.59" />
<ellipse cx="587.7" cy="377.8" rx="9.5" ry="4.9" fill="#fff" stroke="#141414" stroke-width="1.53"/>
<ellipse cx="588.2" cy="378.1" rx="5.6" ry="2.9" fill="none" stroke="#141414" stroke-width="1.18"/>
<path d="M585.4,376.0 L591.2,376.0 L591.6,380.2 L585.8,380.2 Z" fill="none" stroke="#141414" stroke-width="1.06" />
<path d="M578.2,378.5 L578.9,384.5" fill="none" stroke="#141414" stroke-width="1.18" />
<path d="M597.2,378.5 L596.5,384.5" fill="none" stroke="#141414" stroke-width="1.18" />
</g>
<g>
<path d="M586.3,88.3 L636.0,115.2 L634.3,175.0 L585.5,147.6 Z" fill="none" stroke="#141414" stroke-width="1.36" />
<path d="M588.5,87.3 L638.6,114.6 L636.8,174.5 L634.3,175.0" fill="none" stroke="#141414" stroke-width="1.18" />
<path d="M586.3,88.3 L588.5,87.5" fill="none" stroke="#141414" stroke-width="1.18" />
<path d="M636.0,115.2 L638.6,114.6" fill="none" stroke="#141414" stroke-width="1.18" />
<ellipse cx="592.8" cy="97.4" rx="2.4" ry="3.0" fill="none" stroke="#141414" stroke-width="1.53"/>
<ellipse cx="630.0" cy="169.0" rx="2.4" ry="3.0" fill="none" stroke="#141414" stroke-width="1.53"/>
</g>
<g transform="translate(-511.7,460.5)">
<path d="M586.3,88.3 L636.0,115.2 L634.3,175.0 L585.5,147.6 Z" fill="none" stroke="#141414" stroke-width="1.36" />
<path d="M588.5,87.3 L638.6,114.6 L636.8,174.5 L634.3,175.0" fill="none" stroke="#141414" stroke-width="1.18" />
<path d="M586.3,88.3 L588.5,87.5" fill="none" stroke="#141414" stroke-width="1.18" />
<path d="M636.0,115.2 L638.6,114.6" fill="none" stroke="#141414" stroke-width="1.18" />
<ellipse cx="592.8" cy="97.4" rx="2.4" ry="3.0" fill="none" stroke="#141414" stroke-width="1.53"/>
<ellipse cx="630.0" cy="169.0" rx="2.4" ry="3.0" fill="none" stroke="#141414" stroke-width="1.53"/>
</g>
<path d="M608.0,86.9 L603.6,89.1" fill="none" stroke="#141414" stroke-width="4.72" />
<ellipse cx="609.5" cy="85.8" rx="2.9" ry="4.0" fill="#fff" stroke="#141414" stroke-width="2.01" transform="rotate(-30 609.5 85.8)"/>
<path d="M608.6,83.7 L608.4,87.5" fill="none" stroke="#141414" stroke-width="1.06" />
<path d="M647.0,159.1 L642.6,161.3" fill="none" stroke="#141414" stroke-width="4.72" />
<ellipse cx="648.5" cy="158.0" rx="2.9" ry="4.0" fill="#fff" stroke="#141414" stroke-width="2.01" transform="rotate(-30 648.5 158.0)"/>
<path d="M647.6,155.9 L647.4,159.7" fill="none" stroke="#141414" stroke-width="1.06" />
<path d="M62.3,568.2 L57.9,570.4" fill="none" stroke="#141414" stroke-width="4.72" />
<ellipse cx="63.8" cy="567.1" rx="2.9" ry="4.0" fill="#fff" stroke="#141414" stroke-width="2.01" transform="rotate(-30 63.8 567.1)"/>
<path d="M62.9,565.0 L62.7,568.8" fill="none" stroke="#141414" stroke-width="1.06" />
<path d="M101.1,638.3 L96.7,640.5" fill="none" stroke="#141414" stroke-width="4.72" />
<ellipse cx="102.6" cy="637.2" rx="2.9" ry="4.0" fill="#fff" stroke="#141414" stroke-width="2.01" transform="rotate(-30 102.6 637.2)"/>
<path d="M101.7,635.1 L101.5,638.9" fill="none" stroke="#141414" stroke-width="1.06" />
<path d="M1.7,388.3 L30.8,372.3 L31.6,375.6 L2.4,391.6 Z" fill="#3c3c3c" stroke="#141414" stroke-width="1.06" />
<path d="M2.0,390.0 L31.2,374.0" fill="none" stroke="#aaa" stroke-width="0.59" />
<path d="M30.8,372.3 L45.4,370.3 C48.5,369.6 51.5,370.5 54.8,373.8 L61.6,381.6 L62.8,384 L63.2,415.5" fill="none" stroke="#141414" stroke-width="1.42" />
<path d="M33.4,398.4 L61.8,382.1" fill="none" stroke="#141414" stroke-width="1.30" />
<path d="M34.2,401.0 L62.5,385.4" fill="none" stroke="#141414" stroke-width="0.94" />
<path d="M34.2,403.4 L62.8,388.6" fill="none" stroke="#141414" stroke-width="0.94" />
<path d="M14.6,388.1 L45.5,370.6" fill="none" stroke="#141414" stroke-width="0.94" />
<path d="M19.7,390.0 L49.5,373.4" fill="none" stroke="#141414" stroke-width="0.94" />
<path d="M28.3,385.5 L47.9,373.9" fill="none" stroke="#141414" stroke-width="1.06" />
<path d="M28.8,389.6 L48.4,378.0" fill="none" stroke="#141414" stroke-width="1.06" />
<ellipse cx="28.3" cy="387.7" rx="3.3" ry="3.1" fill="#2a2a2a" stroke="#141414" stroke-width="1.18"/>
<ellipse cx="47.9" cy="376.1" rx="3.3" ry="3.1" fill="#2a2a2a" stroke="#141414" stroke-width="1.18"/>
<path d="M33.7,412.5 L50.5,404.5" fill="none" stroke="#141414" stroke-width="0.94" />
<path d="M1.7,390.5 L3.4,431.0 L5.5,434.5 L8.6,434.6" fill="none" stroke="#141414" stroke-width="1.42" />
<path d="M8.4,431.8 L30.0,421.0" fill="none" stroke="#141414" stroke-width="2.24" />
<path d="M9.0,408.0 L9.0,431.0" fill="none" stroke="#141414" stroke-width="1.06" />
<path d="M1.7,390.5 C6,388.6 13,388.2 17,389.4 C22,390.6 26,393 30.8,397.5 L33.4,402.7 L33.4,429.0 C33.0,435.0 32.8,439.0 35.5,444.5 C38.0,448.5 42.0,451.0 46.4,450.8" fill="none" stroke="#141414" stroke-width="1.42" />
<path d="M9,408 C12,409 16.5,408.5 19,404.5 C20.2,401.5 21,398.6 23.2,397.6 C26,397 29.5,399 30.2,402.5 L30.2,432" fill="none" stroke="#141414" stroke-width="1.18" />
<g transform="translate(0.0,0.0)">
<path d="M34.8,430.0 L63.2,415.5" fill="none" stroke="#141414" stroke-width="1.30" />
<path d="M35.8,432.8 L66.5,417.3" fill="none" stroke="#141414" stroke-width="0.94" />
<path d="M63.2,415.5 L68.5,418.6 C73.5,421.5 77.2,425.5 77.0,430.0 C76.8,433.2 75.4,435 73.8,436.1 L46.4,450.6" fill="none" stroke="#141414" stroke-width="1.42" />
<path d="M44.3,436.1 L69.5,421.3" fill="none" stroke="#141414" stroke-width="1.06" />
</g>
<ellipse cx="12.8" cy="399.2" rx="4.3" ry="5.0" fill="none" stroke="#141414" stroke-width="1.42"/>
<ellipse cx="3.4" cy="399.4" rx="1.4" ry="3.3" fill="none" stroke="#141414" stroke-width="1.18"/>
<ellipse cx="41.1" cy="442.4" rx="5.5" ry="6.4" fill="none" stroke="#141414" stroke-width="1.42"/>
<ellipse cx="41.4" cy="442.6" rx="3.6" ry="4.6" fill="none" stroke="#141414" stroke-width="0.94"/>
<g transform="translate(535.3,-369.8)">
<path d="M1.7,388.3 L30.8,372.3 L31.6,375.6 L2.4,391.6 Z" fill="#3c3c3c" stroke="#141414" stroke-width="1.06" />
<path d="M2.0,390.0 L31.2,374.0" fill="none" stroke="#aaa" stroke-width="0.59" />
<path d="M30.8,372.3 L45.4,370.3 C48.5,369.6 51.5,370.5 54.8,373.8 L59.6,381.6 L60.8,384 L61.2,410.5" fill="none" stroke="#141414" stroke-width="1.42" />
<path d="M33.4,398.4 L59.8,383.1" fill="none" stroke="#141414" stroke-width="1.30" />
<path d="M34.2,401.0 L60.5,386.4" fill="none" stroke="#141414" stroke-width="0.94" />
<path d="M34.2,403.4 L60.8,389.6" fill="none" stroke="#141414" stroke-width="0.94" />
<path d="M14.6,388.1 L45.5,370.6" fill="none" stroke="#141414" stroke-width="0.94" />
<path d="M19.7,390.0 L49.5,373.4" fill="none" stroke="#141414" stroke-width="0.94" />
<path d="M28.3,385.5 L47.9,373.9" fill="none" stroke="#141414" stroke-width="1.06" />
<path d="M28.8,389.6 L48.4,378.0" fill="none" stroke="#141414" stroke-width="1.06" />
<ellipse cx="28.3" cy="387.7" rx="3.3" ry="3.1" fill="#2a2a2a" stroke="#141414" stroke-width="1.18"/>
<ellipse cx="47.9" cy="376.1" rx="3.3" ry="3.1" fill="#2a2a2a" stroke="#141414" stroke-width="1.18"/>
<path d="M33.7,412.5 L50.5,404.5" fill="none" stroke="#141414" stroke-width="0.94" />
<path d="M1.7,390.5 L3.4,431.0 L5.5,434.5 L8.6,434.6" fill="none" stroke="#141414" stroke-width="1.42" />
<path d="M8.4,431.8 L30.0,421.0" fill="none" stroke="#141414" stroke-width="2.24" />
<path d="M9.0,408.0 L9.0,431.0" fill="none" stroke="#141414" stroke-width="1.06" />
<path d="M1.7,390.5 C6,388.6 13,388.2 17,389.4 C22,390.6 26,393 30.8,397.5 L33.4,402.7 L33.4,426.0 C33.0,430.0 32.8,434.0 33.5,439.5 C36.0,443.5 40.0,446.0 44.4,445.8" fill="none" stroke="#141414" stroke-width="1.42" />
<path d="M9,408 C12,409 16.5,408.5 19,404.5 C20.2,401.5 21,398.6 23.2,397.6 C26,397 29.5,399 30.2,402.5 L30.2,432" fill="none" stroke="#141414" stroke-width="1.18" />
<g transform="translate(-2.0,-5.0)">
<path d="M34.8,430.0 L63.2,415.5" fill="none" stroke="#141414" stroke-width="1.30" />
<path d="M35.8,432.8 L66.5,417.3" fill="none" stroke="#141414" stroke-width="0.94" />
<path d="M63.2,415.5 L68.5,418.6 C73.5,421.5 77.2,425.5 77.0,430.0 C76.8,433.2 75.4,435 73.8,436.1 L46.4,450.6" fill="none" stroke="#141414" stroke-width="1.42" />
<path d="M44.3,436.1 L69.5,421.3" fill="none" stroke="#141414" stroke-width="1.06" />
</g>
</g>
<path d="M540.9,25.8 L550.1,22.3 C554,21.5 555.2,26.5 554.6,32 C554.3,36 551,39.2 546.3,40.4" fill="#fff" stroke="#141414" stroke-width="1.42" />
<ellipse cx="540.9" cy="33.4" rx="6.0" ry="7.6" fill="#fff" stroke="#141414" stroke-width="1.53"/>
<path d="M569.1,61.1 C573,62.5 577.5,63.5 580,66.5 C581,69 579.5,72.5 576.7,73 C575,73 574,71 574.6,68.7" fill="none" stroke="#141414" stroke-width="1.30" />
<path d="M544.0,41.5 L544.0,63.3" fill="none" stroke="#141414" stroke-width="1.06" />
<path d="M567.0,31.3 L595.0,16.8" fill="none" stroke="#141414" stroke-width="2.01" />
<path d="M567.5,41.5 L595.5,27.0" fill="none" stroke="#141414" stroke-width="2.01" />
<path d="M568.0,45.3 L595.5,31.0" fill="none" stroke="#141414" stroke-width="1.06" />
<path d="M700.9,277.7 L735.5,257.7 L752.7,266.8 L719.1,287.7 Z" fill="none" stroke="#141414" stroke-width="1.42" />
<path d="M700.9,277.7 L701.0,280.5 L719.1,290.3 L752.7,269.5 L752.7,266.8" fill="none" stroke="#141414" stroke-width="1.30" />
<path d="M719.1,287.7 L719.1,290.3" fill="none" stroke="#141414" stroke-width="1.18" />
<path d="M711,281.5 C708,279 716,274.5 720,276.5 C723,278.5 715,284 711,281.5 Z" fill="none" stroke="#141414" stroke-width="1.18" />
<path d="M713.5,280 L718.5,277.5" fill="none" stroke="#141414" stroke-width="0.94" />
<ellipse cx="738.2" cy="265.5" rx="3.2" ry="1.8" fill="none" stroke="#141414" stroke-width="1.18"/>
<rect x="721.7" y="258.6" width="9.4" height="15.4" fill="#fff" stroke="none"/>
<path d="M721.7,258.6 L721.7,274.0" fill="none" stroke="#141414" stroke-width="1.42" />
<path d="M731.1,258.6 L731.1,274.0" fill="none" stroke="#141414" stroke-width="1.42" />
<path d="M721.7,274 A4.7,2.4 0 0 0 731.1,274" fill="none" stroke="#141414" stroke-width="1.42" />
<ellipse cx="726.4" cy="258.6" rx="4.7" ry="2.6" fill="none" stroke="#141414" stroke-width="1.42"/>
<path d="M721.7,266.5 A4.7,2.4 0 0 0 731.1,266.5" fill="none" stroke="#141414" stroke-width="1.30" />
<path d="M721.7,261.8 A4.7,2.4 0 0 0 731.1,261.8" fill="none" stroke="#141414" stroke-width="2.60" />
</svg>
</body></html>
